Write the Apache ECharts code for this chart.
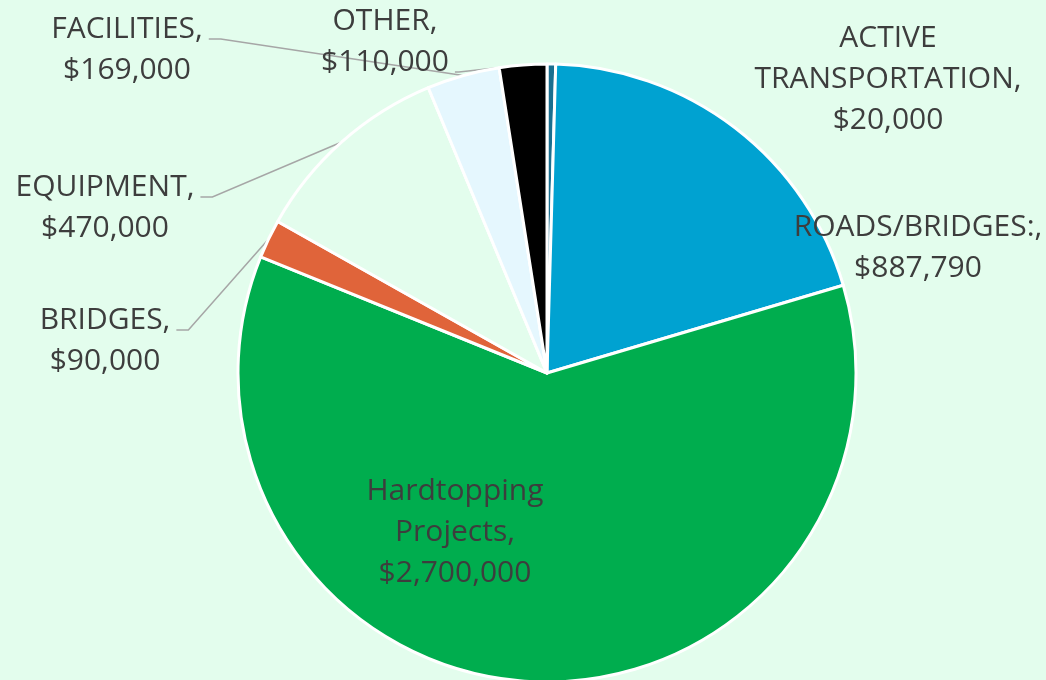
<!DOCTYPE html>
<html lang="en">

<head>
    <meta charset="UTF-8">
    <title>Capital budget pie</title>
    <style>
        html, body { margin: 0; padding: 0; background: #e3fded; }
    </style>
</head>

<body>
    <div id="main" style="width:1046px;height:680px;"></div>
    <script src="https://cdn.jsdelivr.net/npm/echarts@6/dist/echarts.min.js"></script>
    <script>
        // data, clockwise from 12 o'clock
        var names = ['ACTIVE\nTRANSPORTATION', 'ROADS/BRIDGES:', 'Hardtopping\nProjects', 'BRIDGES', 'EQUIPMENT', 'FACILITIES', 'OTHER'];
        var values = [20000, 887790, 2700000, 90000, 470000, 169000, 110000];
        var colors = ['#1b6f8f', '#00a2d1', '#00ad4e', '#e0643a', '#e3fded', '#e5f7fe', '#000000'];

        // where each label sits (centre of text block) and which text row the leader line joins (-1 = none)
        var labelPos = [[888, 79], [918, 248], [455, 532], [105, 341], [105, 208], [127, 50], [385, 42]];
        var lineRow = [-1, -1, -1, 0, 0, 0, 1];
        var LINE_H = 41;

        var myChart = echarts.init(document.getElementById('main'));

        var pieData = [];
        for (var i = 0; i < names.length; i++) {
            pieData.push({
                name: names[i],
                value: values[i],
                itemStyle: { color: colors[i] },
                labelLine: { show: lineRow[i] >= 0 }
            });
        }

        function money(v) {
            return '$' + v.toLocaleString('en-US');
        }

        var option = {
            backgroundColor: '#e3fded',
            animation: false,
            series: [{
                type: 'pie',
                center: [547, 373],
                radius: 309,
                startAngle: 90,
                clockwise: true,
                avoidLabelOverlap: false,
                itemStyle: {
                    borderColor: '#ffffff',
                    borderWidth: 3
                },
                label: {
                    show: true,
                    position: 'outside',
                    color: '#3d3d3d',
                    fontFamily: 'Open Sans',
                    fontSize: 30,
                    lineHeight: LINE_H,
                    align: 'center',
                    textBorderWidth: 0,
                    formatter: function (p) {
                        return p.name + ',\n' + money(p.value);
                    }
                },
                labelLine: {
                    show: true,
                    length: 10,
                    length2: 10,
                    lineStyle: { color: '#a6a6a6', width: 1.5 }
                },
                labelLayout: function (params) {
                    var k = params.dataIndex;
                    var x = labelPos[k][0], y = labelPos[k][1];
                    var w = params.labelRect.width, h = params.labelRect.height;
                    var res = { x: x, y: y, align: 'center', verticalAlign: 'middle' };
                    if (lineRow[k] >= 0 && params.labelLinePoints) {
                        var p0 = params.labelLinePoints[0];
                        var ay = y - h / 2 + lineRow[k] * LINE_H + 30;
                        var ax = x + w / 2 + 6;
                        var elbow = lineRow[k] === 0 ? ax + 12 : ax + 4;
                        res.labelLinePoints = [[p0[0], p0[1]], [elbow, ay], [ax, ay]];
                    }
                    return res;
                },
                data: pieData
            }]
        };
        myChart.setOption(option);
    </script>
</body>

</html>
